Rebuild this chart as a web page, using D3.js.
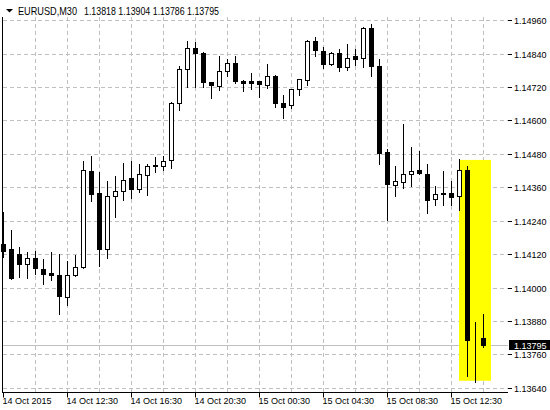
<!DOCTYPE html>
<html>
<head>
<meta charset="utf-8">
<script src="https://cdn.jsdelivr.net/npm/d3@7"></script>
<style>
body { margin: 0; background: #fff; }
svg { display: block; }
text { font-family: "Liberation Sans", Arial, sans-serif; font-size: 9.8px; fill: #000; }
</style>
</head>
<body>
<script>
var symbol = "EURUSD,M30";

// one candle per M30 bar, 14 Oct 08:30 .. 15 Oct 14:30
var opens  = [1.14156,1.14137,1.14121,1.14085,1.14107,1.14067,1.14053,1.14046,1.13967,1.14044,
              1.14073,1.14419,1.14338,1.14139,1.14329,1.14347,1.14392,1.14355,1.14405,1.14437,
              1.14437,1.14459,1.14663,1.14785,1.14861,1.14843,1.14739,1.14724,1.14777,1.14807,
              1.14742,1.14740,1.14740,1.14728,1.14761,1.14664,1.14656,1.14713,1.14747,1.14886,
              1.14851,1.14802,1.14843,1.14791,1.14830,1.14824,1.14933,1.14797,1.14485,1.14368,
              1.14380,1.14407,1.14423,1.14406,1.14317,1.14338,1.14338,1.14328,1.14423,1.13814,1.13818];
var highs  = [1.14271,1.14208,1.14146,1.14128,1.14130,1.14101,1.14128,1.14121,1.14097,1.14118,
              1.14456,1.14471,1.14414,1.14384,1.14402,1.14448,1.14456,1.14442,1.14442,1.14467,
              1.14474,1.14667,1.14794,1.14886,1.14883,1.14846,1.14739,1.14833,1.14822,1.14830,
              1.14745,1.14769,1.14741,1.14804,1.14764,1.14692,1.14714,1.14750,1.14890,1.14901,
              1.14862,1.14846,1.14855,1.14873,1.14855,1.14935,1.14947,1.14822,1.14498,1.14435,
              1.14589,1.14503,1.14492,1.14442,1.14366,1.14417,1.14381,1.14460,1.14438,1.13878,1.13904];
var lows   = [1.14108,1.14031,1.14039,1.14034,1.14050,1.14012,1.14026,1.13904,1.13937,1.14041,
              1.14069,1.14310,1.14077,1.14105,1.14253,1.14314,1.14321,1.14342,1.14332,1.14415,
              1.14421,1.14429,1.14637,1.14720,1.14720,1.14719,1.14680,1.14708,1.14759,1.14736,
              1.14705,1.14714,1.14683,1.14716,1.14648,1.14608,1.14644,1.14693,1.14729,1.14831,
              1.14788,1.14798,1.14777,1.14780,1.14798,1.14791,1.14758,1.14442,1.14244,1.14327,
              1.14359,1.14366,1.14406,1.14269,1.14298,1.14298,1.14298,1.14280,1.13684,1.13660,1.13786];
var closes = [1.14130,1.14035,1.14083,1.14107,1.14071,1.14050,1.14044,1.13969,1.14046,1.14074,
              1.14423,1.14337,1.14139,1.14329,1.14347,1.14387,1.14354,1.14408,1.14438,1.14439,
              1.14455,1.14663,1.14785,1.14861,1.14843,1.14737,1.14727,1.14778,1.14807,1.14740,
              1.14734,1.14734,1.14732,1.14760,1.14662,1.14648,1.14714,1.14750,1.14886,1.14852,
              1.14802,1.14843,1.14791,1.14826,1.14820,1.14933,1.14794,1.14482,1.14371,1.14383,
              1.14408,1.14419,1.14411,1.14316,1.14337,1.14337,1.14324,1.14423,1.13813,1.13816,1.13795];

var priceTicks = [1.14960,1.14840,1.14720,1.14600,1.14480,1.14360,1.14240,1.14120,1.14000,1.13880,1.13760,1.13640];
var timeTickBars = [0, 8, 16, 24, 32, 40, 48, 56];
var timeTickLabels = ["14 Oct 2015","14 Oct 12:30","14 Oct 16:30","14 Oct 20:30",
                      "15 Oct 00:30","15 Oct 04:30","15 Oct 08:30","15 Oct 12:30"];
var gridBars = [4, 8, 12, 16, 20, 24, 28, 32, 36, 40, 44, 48, 52, 56, 60];

// yellow rectangle object: bar range and price range
var boxBars = [57, 61];
var boxPrices = [1.14460, 1.13667];

var width = 550, height = 410;
var axisX = 508, axisY = 392.5;

var svg = d3.select("body").append("svg")
    .attr("width", width)
    .attr("height", height);

var x = d3.scaleLinear().domain([0, 60]).range([3.5, 483.5]);
var y = d3.scaleLinear().domain([1.13640, 1.14960]).range([388.3, 20.7]);

function py(p) { return Math.floor(y(p)) + 0.5; }

// terminal font is narrower than what is installed, squeeze a label
function squeeze(sel) {
    sel.each(function() {
        var w = this.getComputedTextLength();
        d3.select(this).attr("textLength", w * 0.92).attr("lengthAdjust", "spacingAndGlyphs");
    });
    return sel;
}

// grid
svg.append("g").selectAll("line").data(priceTicks).join("line")
    .attr("x1", 3).attr("x2", axisX)
    .attr("y1", d => py(d)).attr("y2", d => py(d))
    .attr("stroke", "#c0c0c0").attr("stroke-dasharray", "4,3");

svg.append("g").selectAll("line").data(gridBars).join("line")
    .attr("x1", d => x(d)).attr("x2", d => x(d))
    .attr("y1", 17).attr("y2", axisY)
    .attr("stroke", "#c0c0c0").attr("stroke-dasharray", "4,3");

// last price line
var last = closes[closes.length - 1];
svg.append("line")
    .attr("x1", 3).attr("x2", axisX)
    .attr("y1", py(last)).attr("y2", py(last))
    .attr("stroke", "#c0c0c0");

// yellow rectangle
svg.append("rect")
    .attr("x", x(boxBars[0]) - 0.5)
    .attr("width", x(boxBars[1]) - x(boxBars[0]))
    .attr("y", y(boxPrices[0]))
    .attr("height", y(boxPrices[1]) - y(boxPrices[0]))
    .attr("fill", "#ffff00");

// frame
svg.append("line").attr("x1", 2.5).attr("x2", 2.5).attr("y1", 17).attr("y2", axisY).attr("stroke", "#000");
svg.append("line").attr("x1", 2).attr("x2", axisX).attr("y1", axisY).attr("y2", axisY).attr("stroke", "#000");

// candles
var bars = d3.range(opens.length);
var candle = svg.append("g").selectAll("g").data(bars).join("g");

candle.append("line")
    .attr("x1", i => x(i)).attr("x2", i => x(i))
    .attr("y1", i => Math.floor(y(highs[i])))
    .attr("y2", i => Math.floor(y(lows[i])) + 1)
    .attr("stroke", "#000");

candle.each(function(i) {
    var g = d3.select(this);
    var top = Math.floor(y(Math.max(opens[i], closes[i])));
    var bot = Math.floor(y(Math.min(opens[i], closes[i])));
    if (closes[i] < opens[i]) {
        g.append("rect")
            .attr("x", x(i) - 2.5).attr("width", 5)
            .attr("y", top).attr("height", bot - top + 1)
            .attr("fill", "#000");
    } else {
        g.append("rect")
            .attr("x", x(i) - 2).attr("width", 4)
            .attr("y", top + 0.5).attr("height", bot - top)
            .attr("fill", "#fff").attr("stroke", "#000");
    }
});

// price scale
svg.append("g").selectAll("line").data(priceTicks).join("line")
    .attr("x1", axisX).attr("x2", axisX + 4)
    .attr("y1", d => py(d)).attr("y2", d => py(d))
    .attr("stroke", "#000");

squeeze(svg.append("g").selectAll("text").data(priceTicks).join("text")
    .attr("x", 514)
    .attr("y", d => py(d) + 3.5)
    .text(d => d.toFixed(5)));

// last price label
svg.append("rect")
    .attr("x", 509).attr("width", 41)
    .attr("y", py(last) - 5.5).attr("height", 10)
    .attr("fill", "#000");
squeeze(svg.append("text")
    .attr("x", 514).attr("y", py(last) + 3)
    .style("fill", "#fff")
    .text(last.toFixed(5)));

// time scale
svg.append("g").selectAll("line").data(timeTickBars).join("line")
    .attr("x1", d => x(d)).attr("x2", d => x(d))
    .attr("y1", axisY).attr("y2", axisY + 5)
    .attr("stroke", "#000");

squeeze(svg.append("g").selectAll("text").data(timeTickBars).join("text")
    .attr("x", d => x(d) - 1)
    .attr("y", 404)
    .text((d, i) => timeTickLabels[i]));

// header: symbol then O H L C of the last bar
svg.append("path")
    .attr("d", "M6,9 L13,9 L9.5,12.5 Z")
    .attr("fill", "#000");
svg.append("text")
    .attr("x", 18).attr("y", 14.5)
    .attr("textLength", 59).attr("lengthAdjust", "spacingAndGlyphs")
    .style("font-size", "10.5px")
    .text(symbol);
svg.append("text")
    .attr("x", 84).attr("y", 14.5)
    .attr("textLength", 135).attr("lengthAdjust", "spacingAndGlyphs")
    .style("font-size", "10.5px")
    .text([opens, highs, lows, closes].map(a => a[a.length - 1].toFixed(5)).join(" "));
</script>
</body>
</html>
